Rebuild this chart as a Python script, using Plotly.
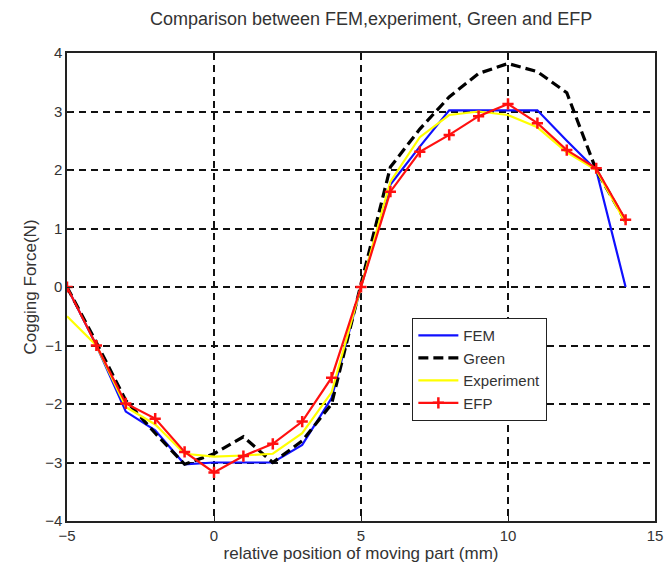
import plotly.graph_objects as go

x = list(range(-5, 15))

fem = [0, -1.0, -2.13, -2.45, -3.03, -3.0, -3.0, -3.0, -2.7, -1.9, 0, 1.75, 2.4, 3.02, 3.02, 3.02, 3.02, 2.5, 2.0, 0]
green = [0, -0.95, -1.94, -2.5, -3.03, -2.85, -2.56, -3.0, -2.63, -2.0, 0.05, 2.05, 2.7, 3.25, 3.65, 3.82, 3.68, 3.32, 2.0, 1.12]
experiment = [-0.5, -1.0, -2.05, -2.35, -2.85, -2.9, -2.88, -2.85, -2.5, -1.8, 0, 1.8, 2.56, 2.94, 3.0, 2.94, 2.73, 2.3, 2.0, 1.1]
efp = [0, -1.0, -1.99, -2.25, -2.82, -3.17, -2.89, -2.68, -2.3, -1.55, 0, 1.63, 2.31, 2.6, 2.92, 3.13, 2.8, 2.34, 2.03, 1.15]

title_text = "Comparison between FEM,experiment, Green and EFP"
x_title = "relative position of moving part (mm)"
y_title = "Cogging Force(N)"
x_ticks = [-5, 0, 5, 10, 15]
y_ticks = [-4, -3, -2, -1, 0, 1, 2, 3, 4]

FONT = "Liberation Sans, Arial"

fig = go.Figure()
fig.add_trace(go.Scatter(x=x, y=fem, mode="lines", name="FEM",
                         line=dict(color="#1010ff", width=2.2)))
fig.add_trace(go.Scatter(x=x, y=green, mode="lines", name="Green",
                         line=dict(color="black", width=3.2, dash="10px,5px")))
fig.add_trace(go.Scatter(x=x, y=experiment, mode="lines", name="Experiment",
                         line=dict(color="#ffff00", width=2.2)))
fig.add_trace(go.Scatter(x=x, y=efp, mode="lines+markers", name="EFP",
                         line=dict(color="#ff1010", width=2.2),
                         marker=dict(symbol="cross-thin", size=8,
                                     line=dict(color="#ff1010", width=2.5))))

axis_common = dict(
    showline=True, linecolor="#222", linewidth=1.5, mirror=True,
    ticks="inside", ticklen=5, tickcolor="#222",
    showgrid=True, gridcolor="#111", gridwidth=1.6, griddash="7px,5px",
    zeroline=False,
    tickfont=dict(family=FONT, size=15, color="#333"),
    title_font=dict(family=FONT, size=17, color="#333"),
)

fig.update_layout(
    width=671, height=569,
    margin=dict(l=67, r=8, t=53, b=48),
    paper_bgcolor="white", plot_bgcolor="white",
    title=dict(text=title_text, x=0.553, xanchor="center", y=0.968, yanchor="middle",
               font=dict(family=FONT, size=18, color="#333")),
    xaxis=dict(range=[-5, 15], tickvals=x_ticks, title=dict(text=x_title, standoff=2),
               **axis_common),
    yaxis=dict(range=[-4, 4], tickvals=y_ticks, title=dict(text=y_title, standoff=4),
               **axis_common),
    legend=dict(x=0.587, y=0.434, xanchor="left", yanchor="top",
                bgcolor="white", bordercolor="#222", borderwidth=1.2,
                font=dict(family=FONT, size=15, color="#333"),
                tracegroupgap=0, itemwidth=40),
    showlegend=True,
)

fig.write_html("out.html")
